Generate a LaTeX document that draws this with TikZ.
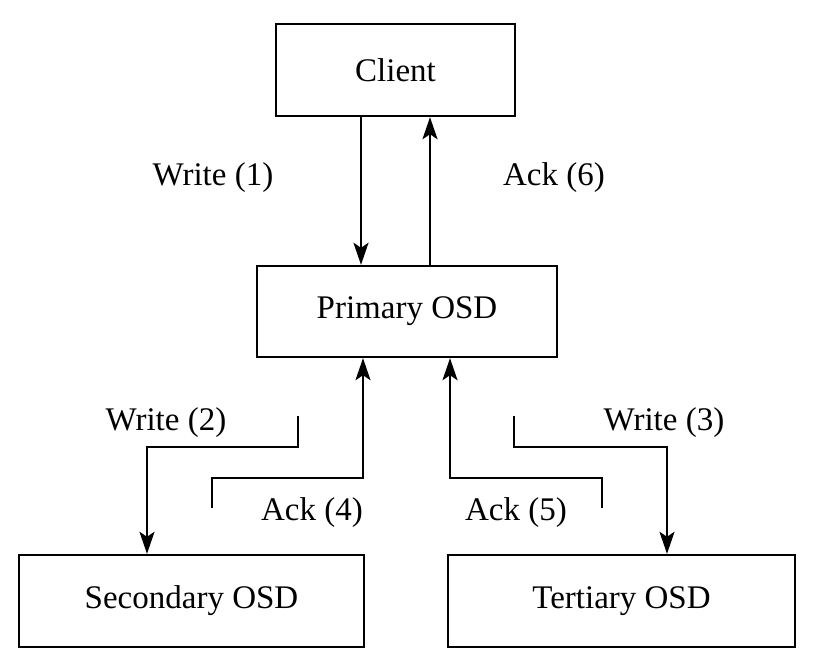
\documentclass[tikz,border=0pt]{standalone}
\usepackage{fontspec}
\setmainfont{Liberation Serif}
\usetikzlibrary{arrows.meta}
\begin{document}
\begin{tikzpicture}[x=1pt,y=-1pt,
  box/.style={draw,line width=2.4pt,inner sep=0pt,anchor=center,font=\fontsize{33}{40}\selectfont},
  lbl/.style={inner sep=0pt,anchor=center,font=\fontsize{33}{40}\selectfont},
  arr/.style={line width=2.4pt,-{Stealth[length=22pt,width=15pt,inset=5pt]}},
  ln/.style={line width=2.4pt}]
\useasboundingbox (0,0) rectangle (813,660);
\node[box,minimum width=239pt,minimum height=92pt] (client) at (395.5,70) {Client};
\node[box,minimum width=300pt,minimum height=91pt] (primary) at (407,311.5) {Primary OSD};
\node[box,minimum width=345pt,minimum height=92pt] (secondary) at (191.5,601) {Secondary OSD};
\node[box,minimum width=347pt,minimum height=92pt] (tertiary) at (621.5,601) {Tertiary OSD};
% client <-> primary
\coordinate (w1x) at (361,0);
\coordinate (a6x) at (430,0);
\draw[arr] (client.south -| w1x) -- (primary.north -| w1x);
\draw[arr] (primary.north -| a6x) -- (client.south -| a6x);
% write 2
\coordinate (w2s) at (298,416);
\coordinate (w2k) at (147,447);
\draw[arr] (w2s) |- (w2k) -- (w2k |- secondary.north);
% write 3
\coordinate (w3s) at (514,416);
\coordinate (w3k) at (667,447);
\draw[arr] (w3s) |- (w3k) -- (w3k |- tertiary.north);
% ack 4
\coordinate (a4s) at (212,508);
\coordinate (a4k) at (363,478);
\draw[arr] (a4s) |- (a4k) -- (a4k |- primary.south);
% ack 5
\coordinate (a5s) at (602,508);
\coordinate (a5k) at (450,478);
\draw[arr] (a5s) |- (a5k) -- (a5k |- primary.south);
% labels
\node[lbl] (l1) at (213,178) {Write (1)};
\node[lbl] (l6) at (554,178) {Ack (6)};
\node[lbl] (l2) at (166,423) {Write (2)};
\node[lbl] (l3) at (664,423) {Write (3)};
\node[lbl] (l4) at (312,513) {Ack (4)};
\node[lbl] (l5) at (516,513) {Ack (5)};
\end{tikzpicture}
\end{document}
